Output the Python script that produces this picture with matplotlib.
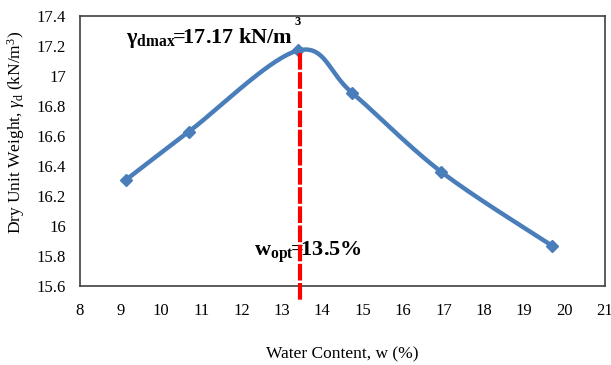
import numpy as np
import matplotlib
matplotlib.use("Agg")
import matplotlib.pyplot as plt

# Courbe de compactage (Proctor)
water_content = [9.15, 10.7, 13.4, 14.73, 16.95, 19.68]
dry_unit_weight = [16.31, 16.63, 17.17, 16.89, 16.36, 15.87]
w_opt = 13.45
gamma_dmax = 17.17

x_ticks = list(range(8, 22))
y_ticks = [15.6, 15.8, 16, 16.2, 16.4, 16.6, 16.8, 17, 17.2, 17.4]
y_tick_labels = ["15.6", "15.8", "16", "16.2", "16.4", "16.6", "16.8", "17", "17.2", "17.4"]


def smooth_curve(xs, ys, n=40):
    # lissage type Excel (Catmull-Rom) entre les points mesures
    p = np.column_stack([xs, ys])
    p = np.vstack([p[0], p, p[-1]])
    out = []
    for i in range(1, len(p) - 2):
        p0, p1, p2, p3 = p[i - 1], p[i], p[i + 1], p[i + 2]
        t = np.linspace(0, 1, n)[:, None]
        seg = 0.5 * ((2 * p1) + (-p0 + p2) * t
                     + (2 * p0 - 5 * p1 + 4 * p2 - p3) * t ** 2
                     + (-p0 + 3 * p1 - 3 * p2 + p3) * t ** 3)
        out.append(seg)
    out = np.vstack(out)
    return out[:, 0], out[:, 1]


plt.rcParams["font.family"] = ["Liberation Serif", "DejaVu Serif"]
plt.rcParams["mathtext.fontset"] = "custom"
plt.rcParams["mathtext.rm"] = "Liberation Serif"
plt.rcParams["mathtext.it"] = "Liberation Serif:italic"
plt.rcParams["mathtext.bf"] = "Liberation Serif:bold"

fig = plt.figure(figsize=(6.11, 3.65), dpi=100)
ax = fig.add_axes([80 / 611, 1 - 286 / 365, 525 / 611, 270 / 365])

cx, cy = smooth_curve(water_content, dry_unit_weight)
ax.plot(cx, cy, color="#4a7ebb", lw=3.2, solid_capstyle="round", zorder=3)
ax.plot(water_content, dry_unit_weight, ls="none", marker="D", ms=6.5,
        color="#4a7ebb", zorder=3)

ax.plot([w_opt, w_opt], [gamma_dmax - 0.02, 15.5], color="red", lw=3,
        ls=(0, (4, 0.6)), clip_on=False, zorder=4)

ax.text(9.15, 17.22, r"$\mathbf{\gamma_{dmax}\!\!=\!\!17.17\ kN/m}$", fontsize=16)
ax.text(13.3, 17.34, "3", fontsize=9, fontweight="bold")
ax.text(12.3, 15.8, r"$\mathbf{w_{opt}\!\!=\!\!13.5\%}$", fontsize=16)

ax.set_xlim(8, 21)
ax.set_ylim(15.6, 17.4)
ax.set_xticks(x_ticks)
ax.set_yticks(y_ticks)
ax.set_yticklabels(y_tick_labels)
ax.tick_params(length=0, labelsize=12)
ax.tick_params(axis="x", pad=12)
ax.tick_params(axis="y", pad=10)
for s in ax.spines.values():
    s.set_color("#404040")
    s.set_linewidth(1.2)

ax.set_xlabel("Water Content, w (%)", fontsize=12.5, labelpad=20)
ax.set_ylabel(r"Dry Unit Weight, $\gamma_{\mathrm{d}}$ (kN/m$^3$)", fontsize=12.5)
ax.yaxis.set_label_coords(-0.1, 0.567)

fig.savefig("out.png", dpi=100)
